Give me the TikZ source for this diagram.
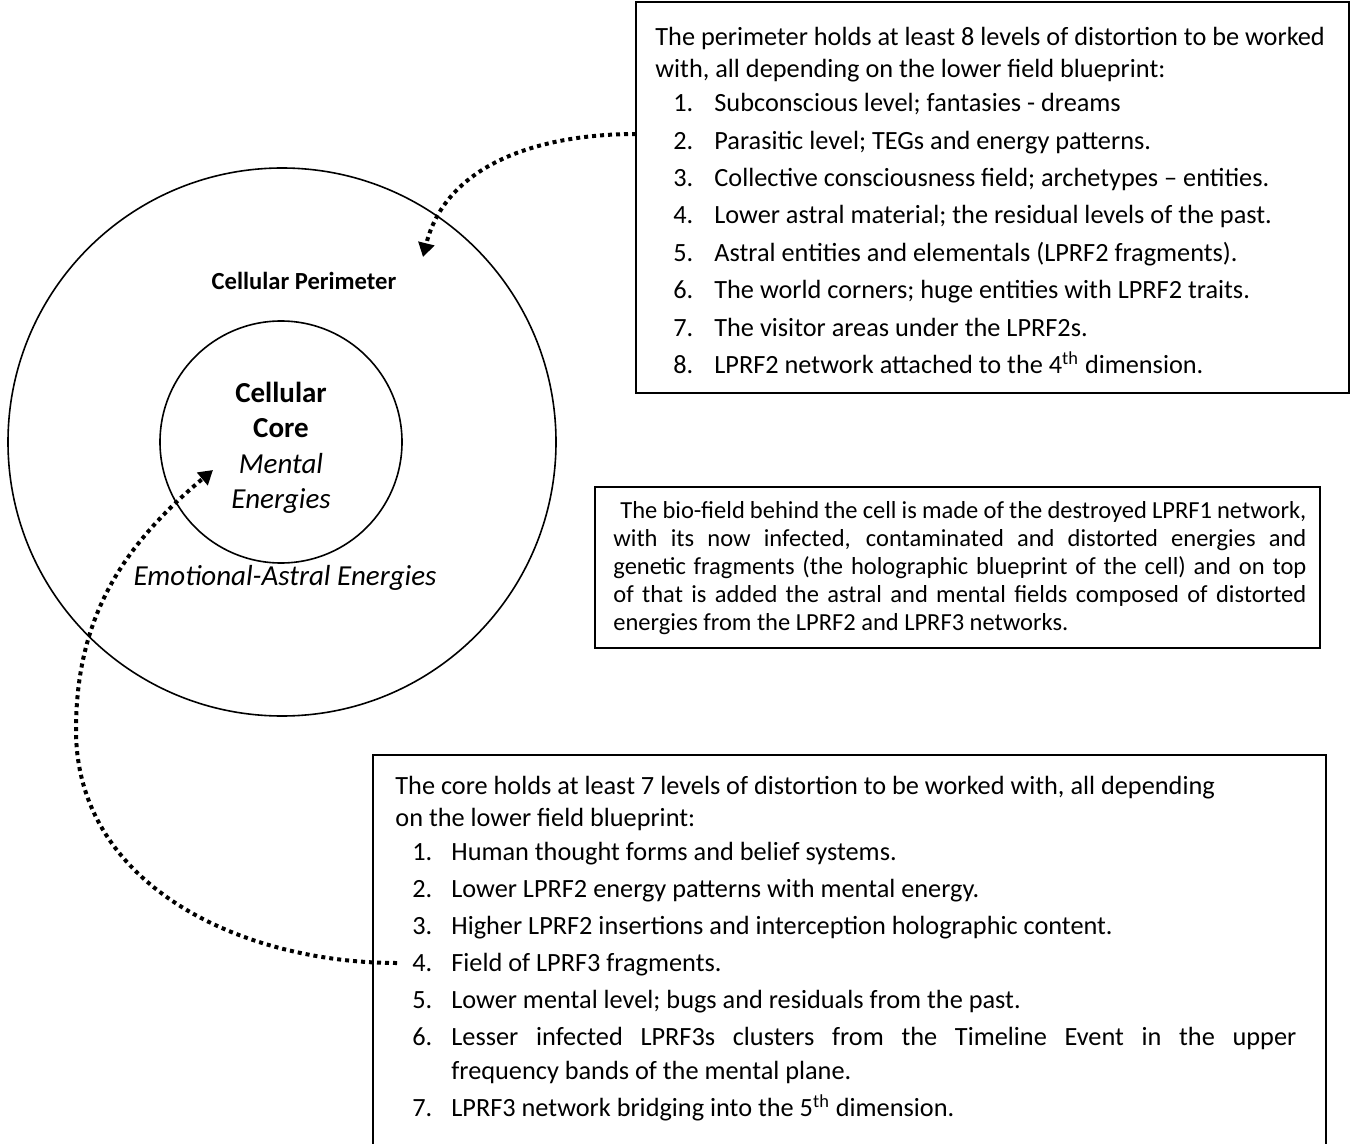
\documentclass[tikz,border=0pt]{standalone}
\usepackage{fontspec}
\setmainfont{Carlito}
\usetikzlibrary{arrows.meta}
\newlength\numoff
\newlength\numw
\newcommand\lst[3][3.3pt]{\par\vspace{#1}\hspace*{\numoff}\makebox[\numw][l]{#2.}#3}
\tikzset{
  ring/.style={draw, circle, inner sep=0pt, line width=0.8pt},
  dotarrow/.style={line width=2pt, dash pattern=on 2pt off 2pt, -{Triangle[length=7pt,width=8pt]}},
  lbl/.style={inner sep=0pt, align=center},
}
\begin{document}
\begin{tikzpicture}[x=0.5pt, y=-0.5pt]
\useasboundingbox (0,0) rectangle (1354,1144);
\clip (0,0) rectangle (1354,1144);

% circles
\node[ring, minimum size=274pt] (outer) at (282,442) {};
\node[ring, minimum size=121pt] (inner) at (281,442) {};

% circle labels
\node[lbl, font=\fontsize{12.3}{14}\selectfont\bfseries] (perim) at (304,281) {Cellular Perimeter};
\node[lbl, font=\fontsize{14.5}{17.7}\selectfont] (core) at (281,448) {\textbf{Cellular}\\\textbf{Core}\\\textit{Mental}\\\textit{Energies}};
\node[lbl, font=\fontsize{14.5}{17.5}\selectfont\itshape] (emo) at (285,578) {Emotional-Astral Energies};

% top box
\path (636,2) coordinate (tb1) (1349,393) coordinate (tb2);
\draw[line width=0.9pt] (tb1) rectangle (tb2);
\node[anchor=base west, inner sep=0pt] (toptext) at (655,46) {%
\begin{minipage}[t]{345pt}\fontsize{13.15}{15.8}\selectfont\setlength\parindent{0pt}%
\setlength\numoff{9pt}\setlength\numw{20.5pt}%
The perimeter holds at least 8 levels of distortion to be worked\par
with, all depending on the lower field blueprint:
\lst[1.3pt]{1}{Subconscious level; fantasies - dreams}
\lst[2.9pt]{2}{Parasitic level; TEGs and energy patterns.}
\lst[2.9pt]{3}{Collective consciousness field; archetypes – entities.}
\lst[2.9pt]{4}{Lower astral material; the residual levels of the past.}
\lst[2.9pt]{5}{Astral entities and elementals (LPRF2 fragments).}
\lst[2.9pt]{6}{The world corners; huge entities with LPRF2 traits.}
\lst[2.9pt]{7}{The visitor areas under the LPRF2s.}
\lst[2.9pt]{8}{LPRF2 network attached to the 4\textsuperscript{th} dimension.}
\end{minipage}};

% middle box
\path (595,487) coordinate (mb1) (1320,648) coordinate (mb2);
\draw[line width=0.9pt] (mb1) rectangle (mb2);
\node[anchor=base west, inner sep=0pt] (midtext) at (613,518) {%
\begin{minipage}[t]{346.5pt}\fontsize{12.25}{14}\selectfont\setlength\parindent{0pt}%
\hspace*{3.5pt}\makebox[343pt][s]{The bio-field behind the cell is made of the destroyed LPRF1 network,}\par
\makebox[346.5pt][s]{with its now infected, contaminated and distorted energies and}\par
\makebox[346.5pt][s]{genetic fragments (the holographic blueprint of the cell) and on top}\par
\makebox[346.5pt][s]{of that is added the astral and mental fields composed of distorted}\par
energies from the LPRF2 and LPRF3 networks.
\end{minipage}};

% bottom box
\path (373,755) coordinate (bb1) (1326,1200) coordinate (bb2);
\draw[line width=0.9pt] (bb1) rectangle (bb2);
\node[anchor=base west, inner sep=0pt] (bottext) at (395,794) {%
\begin{minipage}[t]{455pt}\fontsize{13.15}{16}\selectfont\setlength\parindent{0pt}%
\setlength\numoff{8.5pt}\setlength\numw{19.5pt}%
The core holds at least 7 levels of distortion to be worked with, all depending\par
on the lower field blueprint:
\lst[1pt]{1}{Human thought forms and belief systems.}
\lst[2.5pt]{2}{Lower LPRF2 energy patterns with mental energy.}
\lst[2.5pt]{3}{Higher LPRF2 insertions and interception holographic content.}
\lst[2.5pt]{4}{Field of LPRF3 fragments.}
\lst[2.5pt]{5}{Lower mental level; bugs and residuals from the past.}
\lst[2.5pt]{6}{\makebox[422.5pt][s]{Lesser infected LPRF3s clusters from the Timeline Event in the upper}}\par
\vspace{1pt}\hspace*{28pt}frequency bands of the mental plane.
\lst[2.5pt]{7}{LPRF3 network bridging into the 5\textsuperscript{th} dimension.}
\end{minipage}};

% connectors
\coordinate (a1s) at (636,134);
\coordinate (a1e) at (423,257);
\draw[dotarrow] (a1s) to[out=180, in=76] (a1e);
\coordinate (a2s) at (397,963);
\coordinate (a2m) at (76,730);
\coordinate (a2e) at (213,470);
\draw[dotarrow] (a2s) to[out=180, in=-90] (a2m) to[out=90, in=220] (a2e);
\end{tikzpicture}
\end{document}
